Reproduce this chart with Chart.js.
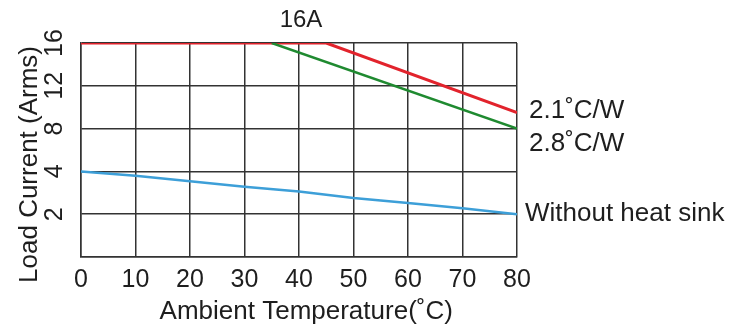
<!DOCTYPE html>
<html>
<head>
<meta charset="utf-8">
<script src="https://cdn.jsdelivr.net/npm/chart.js@4.4.0/dist/chart.umd.min.js"></script>
<style>
html,body{margin:0;padding:0;background:#fff;}
#wrap{width:743px;height:327px;}
</style>
</head>
<body>
<div id="wrap"><canvas id="c" width="743" height="327"></canvas></div>
<script>
// ---- data ----
const xTicks = [0, 10, 20, 30, 40, 50, 60, 70, 80];
const yTickValues = [0, 2, 4, 8, 12, 16];          // Arms, equally spaced on the axis
const yTickLabels = ['', '2', '4', '8', '12', '16'];

const redTemps = [0, 45, 80];
const redAmps = [16, 16, 9.5];
const greenTemps = [35, 80];
const greenAmps = [16, 8];
const blueTemps = [0, 10, 20, 30, 40, 50, 60, 70, 80];
const blueAmps = [4.0, 3.8, 3.54, 3.28, 3.06, 2.76, 2.52, 2.28, 2.0];

const peakLabel = '16A';
const seriesLabels = ['2.1˚C/W', '2.8˚C/W', 'Without heat sink'];
const xTitle = 'Ambient Temperature(˚C)';
const yTitle = 'Load Current (Arms)';

// map amps to the axis position (ticks are equally spaced)
function toPos(a) {
  for (let i = 1; i < yTickValues.length; i++) {
    if (a <= yTickValues[i]) {
      const a0 = yTickValues[i - 1], a1 = yTickValues[i];
      return (i - 1) + (a - a0) / (a1 - a0);
    }
  }
  return yTickValues.length - 1;
}
function pts(xs, ys) { return xs.map((x, i) => ({x: x, y: toPos(ys[i])})); }

const FONT = "'Liberation Sans', Arial, sans-serif";
const TXT = '#1e1e1e';
const GRID = '#333';

const labelPlugin = {
  id: 'labels',
  afterDatasetsDraw(chart) {
    const ctx = chart.ctx;
    const xs = chart.scales.x, ys = chart.scales.y;
    ctx.save();
    ctx.fillStyle = TXT;
    ctx.font = '24px ' + FONT;
    ctx.textBaseline = 'middle';
    ctx.textAlign = 'center';
    ctx.fillText(peakLabel, xs.getPixelForValue(40) + 2, ys.getPixelForValue(toPos(16)) - 23);
    ctx.font = '26px ' + FONT;
    ctx.textAlign = 'left';
    const r = xs.right;
    ctx.fillText(seriesLabels[0], r + 12, ys.getPixelForValue(toPos(redAmps[redAmps.length - 1])) - 2);
    ctx.fillText(seriesLabels[1], r + 12, ys.getPixelForValue(toPos(greenAmps[greenAmps.length - 1])) + 15);
    ctx.fillText(seriesLabels[2], r + 8, ys.getPixelForValue(toPos(blueAmps[blueAmps.length - 1])));
    ctx.restore();
  }
};

new Chart(document.getElementById('c'), {
  type: 'line',
  data: {
    datasets: [
      {data: pts(blueTemps, blueAmps), borderColor: '#3d9fd8', borderWidth: 2.5, pointRadius: 0, tension: 0},
      {data: pts(greenTemps, greenAmps), borderColor: '#1f8a30', borderWidth: 2.5, pointRadius: 0, tension: 0},
      {data: pts(redTemps, redAmps), borderColor: '#e2232c', borderWidth: 3, pointRadius: 0, tension: 0}
    ]
  },
  options: {
    responsive: false,
    animation: false,
    events: [],
    layout: {padding: {left: 0, right: 226, top: 43, bottom: 0}},
    plugins: {legend: {display: false}, tooltip: {enabled: false}},
    scales: {
      x: {
        type: 'linear', min: 0, max: 80,
        afterBuildTicks(s) { s.ticks = xTicks.map(v => ({value: v})); },
        afterFit(s) { s.height = 70; },
        grid: {color: GRID, lineWidth: 1.5, drawTicks: false},
        border: {color: GRID, width: 1.5},
        ticks: {color: TXT, font: {family: FONT, size: 25}, padding: 8, maxRotation: 0, autoSkip: false},
        title: {display: true, text: '  ' + xTitle, color: TXT, font: {family: FONT, size: 26}, padding: {top: 0, bottom: 0}}
      },
      y: {
        type: 'linear', min: 0, max: yTickValues.length - 1,
        afterBuildTicks(s) { s.ticks = yTickValues.map((v, i) => ({value: i})); },
        afterFit(s) { s.width = 81; },
        grid: {color: GRID, lineWidth: 1.5, drawTicks: false},
        border: {color: GRID, width: 1.5},
        ticks: {color: TXT, font: {family: FONT, size: 25}, padding: 12, minRotation: 90, maxRotation: 90,
                crossAlign: 'center', autoSkip: false, callback: (v, i) => yTickLabels[i]},
        title: {display: true, text: yTitle + '    ', color: TXT, font: {family: FONT, size: 26}, padding: {top: 14, bottom: 0}}
      }
    }
  },
  plugins: [labelPlugin]
});
</script>
</body>
</html>
